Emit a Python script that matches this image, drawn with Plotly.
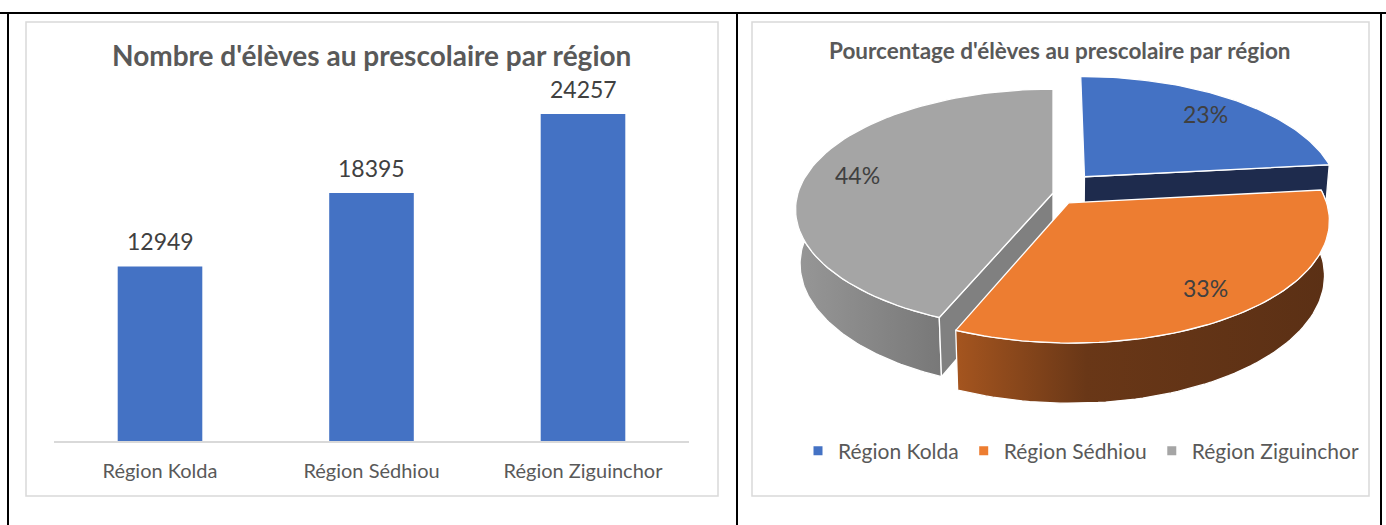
import math
import plotly.graph_objects as go

# ---- data -------------------------------------------------------------
regions = ["Région Kolda", "Région Sédhiou", "Région Ziguinchor"]
eleves = [12949, 18395, 24257]

bar_title = "Nombre d'élèves au prescolaire par région"
pie_title = "Pourcentage d'élèves au prescolaire par région"

# ---- styling ----------------------------------------------------------
W, H = 1386, 525
FONT = "Lato"
BAR_COLOR = "#4472C4"
TOP_COLORS = ["#4472C4", "#ED7D31", "#A5A5A5"]
CUT_COLORS = ["#1E2B4D", "#6B3A1A", "#808080"]
SIDE_SCALES = [
    [[0, "#22325A"], [1, "#1B2744"]],
    [[0, "#A5551F"], [0.35, "#693717"], [1, "#5B3015"]],
    [[0, "#979797"], [1, "#787878"]],
]
EXPLODE = [48, 26, 0]          # pull-out distance of each slice

# 3D pie projection parameters
CX, CY = 1053, 193             # screen position of the pie centre
R = 255                        # radius
DEPTH = 62                     # thickness
TILT = math.radians(27.6)      # viewing elevation
DIST = 1650                    # perspective distance
LABEL_R = 0.8


def px(x):
    return x / W


def py(y):
    return 1 - y / H


def project(X, Z, Y=0.0):
    yup = Y * math.cos(TILT) + Z * math.sin(TILT)
    w = Z * math.cos(TILT) - Y * math.sin(TILT)
    f = DIST / (DIST + w)
    return CX + f * X, CY - f * yup


def arc(ox, oz, a0, a1, Y=0.0, n=80):
    pts = []
    for k in range(n + 1):
        t = math.radians(a0 + (a1 - a0) * k / n)
        pts.append(project(ox + R * math.sin(t), oz + R * math.cos(t), Y))
    return pts


def poly_trace(pts, color=None, gradient=None):
    xs = [p[0] for p in pts] + [pts[0][0]]
    ys = [p[1] for p in pts] + [pts[0][1]]
    kw = dict(x=xs, y=ys, mode="lines", fill="toself",
              line=dict(color="white", width=1.3),
              hoverinfo="skip", showlegend=False, xaxis="x2", yaxis="y2")
    if gradient is not None:
        kw["fillgradient"] = dict(type="horizontal", colorscale=gradient)
    else:
        kw["fillcolor"] = color
    return go.Scatter(**kw)


fig = go.Figure()

# ---- left: column chart ------------------------------------------------
fig.add_trace(go.Bar(x=regions, y=eleves, marker=dict(color=BAR_COLOR, line=dict(width=0)),
                     hoverinfo="skip", showlegend=False, xaxis="x", yaxis="y"))
for r, v in zip(regions, eleves):
    fig.add_annotation(x=r, y=v, xref="x", yref="y", text=str(v), showarrow=False,
                       xanchor="center", yanchor="middle", yshift=25,
                       font=dict(family=FONT, size=23, color="#404040"))

# ---- right: exploded 3D pie -------------------------------------------
total = sum(eleves)
starts, ends = [], []
acc = 0.0
for v in eleves:
    starts.append(acc / total * 360)
    acc += v
    ends.append(acc / total * 360)

slices = []
for i, v in enumerate(eleves):
    mid = math.radians((starts[i] + ends[i]) / 2)
    ox, oz = EXPLODE[i] * math.sin(mid), EXPLODE[i] * math.cos(mid)
    slices.append((ox, oz, starts[i], ends[i], mid))

# painter's order: back slice, left slice, then front slice
for i in [0, 2, 1]:
    ox, oz, a0, a1, mid = slices[i]
    # outer rim (only the front half is ever visible)
    s0, s1 = max(a0, 80), min(a1, 280)
    if s1 > s0:
        top = arc(ox, oz, s0, s1, 0)
        bot = arc(ox, oz, s0, s1, -DEPTH)
        fig.add_trace(poly_trace(top + bot[::-1], gradient=SIDE_SCALES[i]))
    # radial cut faces that face the viewer
    for ang, facing in ((a0, a0 - 90), (a1, a1 + 90)):
        if math.cos(math.radians(facing)) < -0.05:
            t = math.radians(ang)
            rx, rz = ox + R * math.sin(t), oz + R * math.cos(t)
            quad = [project(ox, oz, 0), project(rx, rz, 0),
                    project(rx, rz, -DEPTH), project(ox, oz, -DEPTH)]
            fig.add_trace(poly_trace(quad, color=CUT_COLORS[i]))
    # top face
    face = [project(ox, oz, 0)] + arc(ox, oz, a0, a1, 0)
    fig.add_trace(poly_trace(face, color=TOP_COLORS[i]))

for i, v in enumerate(eleves):
    ox, oz, a0, a1, mid = slices[i]
    lx, ly = project(ox + LABEL_R * R * math.sin(mid), oz + LABEL_R * R * math.cos(mid), 0)
    fig.add_annotation(x=lx, y=ly, xref="x2", yref="y2", showarrow=False,
                       xanchor="center", yanchor="middle",
                       text=f"{round(v / total * 100)}%",
                       font=dict(family=FONT, size=23, color="#404040"))

# legend entries
for i, r in enumerate(regions):
    fig.add_trace(go.Scatter(x=[None], y=[None], mode="markers", name=r,
                             marker=dict(symbol="square", size=9, color=TOP_COLORS[i]),
                             xaxis="x2", yaxis="y2", showlegend=True))

# ---- page frame ------------------------------------------------------
shapes = []
# table rules
for x0, y0, x1, y1 in [(0, 13, W, 13), (8, 13, 8, H), (737, 13, 737, H), (1381, 13, 1381, H)]:
    shapes.append(dict(type="line", xref="paper", yref="paper",
                       x0=px(x0), y0=py(y0), x1=px(x1), y1=py(y1),
                       line=dict(color="black", width=2)))
# chart area outlines
for x0, x1 in [(26, 718), (752, 1369)]:
    shapes.append(dict(type="rect", xref="paper", yref="paper",
                       x0=px(x0), y0=py(496), x1=px(x1), y1=py(22),
                       line=dict(color="#D9D9D9", width=1.5)))

fig.update_layout(
    width=W, height=H, margin=dict(l=0, r=0, t=0, b=0),
    paper_bgcolor="white", plot_bgcolor="rgba(0,0,0,0)",
    font=dict(family=FONT),
    shapes=shapes,
    bargap=0.6,
    showlegend=True,
    legend=dict(orientation="h", x=px(1081), y=py(451), xanchor="center", yanchor="middle",
                font=dict(family=FONT, size=21, color="#595959"),
                itemwidth=30, bgcolor="rgba(0,0,0,0)", traceorder="normal"),
    xaxis=dict(domain=[px(54.25), px(688.75)], showgrid=False, zeroline=False,
               showline=True, linecolor="#D9D9D9", linewidth=1.5, ticks="",
               tickfont=dict(family=FONT, size=20, color="#595959"),
               ticklabelstandoff=11, fixedrange=True),
    yaxis=dict(domain=[py(441), py(36.6)], range=[0, 30000], visible=False,
               fixedrange=True),
    xaxis2=dict(domain=[px(740), 1], range=[740, W], visible=False, fixedrange=True),
    yaxis2=dict(domain=[0, 1], range=[H, 0], visible=False, fixedrange=True),
)

fig.add_annotation(x=px(371), y=py(55), xref="paper", yref="paper", showarrow=False,
                   xanchor="center", yanchor="middle",
                   text=f"<b>{bar_title}</b>",
                   font=dict(family=FONT, size=28, color="#595959"))
fig.add_annotation(x=px(1060), y=py(50), xref="paper", yref="paper", showarrow=False,
                   xanchor="center", yanchor="middle",
                   text=f"<b>{pie_title}</b>",
                   font=dict(family=FONT, size=22.5, color="#595959"))

fig.write_html("out.html")
